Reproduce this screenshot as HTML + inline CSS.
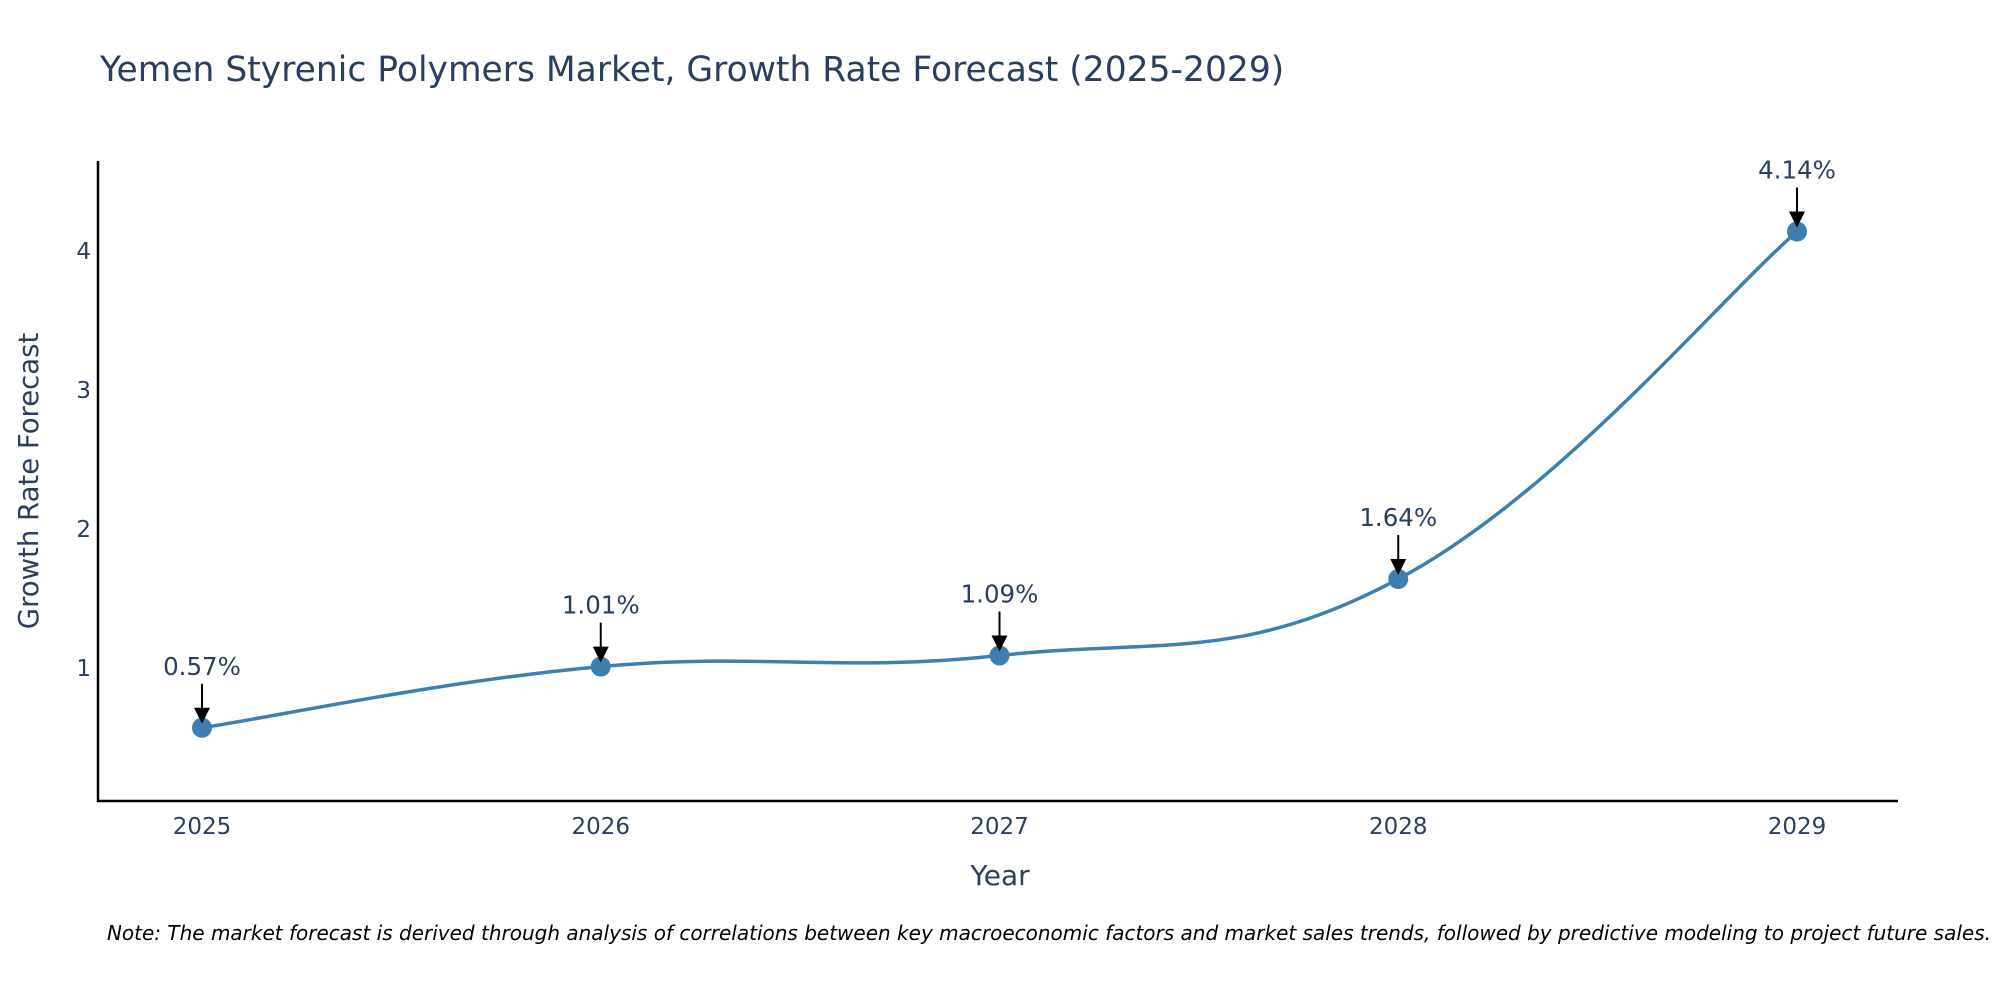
<!DOCTYPE html>
<html><head><meta charset="utf-8"><style>
body{margin:0;background:#fff;}
svg text{font-family:"DejaVu Sans","Liberation Sans",sans-serif;}
</style></head><body>
<svg id="chart" width="2000" height="1000" xmlns="http://www.w3.org/2000/svg">
<text x="100" y="81" font-size="34.5" fill="#2a3f5f">Yemen Styrenic Polymers Market, Growth Rate Forecast (2025-2029)</text>
<g id="yticks"></g>
<g id="xticks"></g>
<line x1="98" y1="161" x2="98" y2="802" stroke="#000" stroke-width="2.5"/>
<line x1="97" y1="801" x2="1898" y2="801" stroke="#000" stroke-width="2.5"/>
<text transform="translate(38,481) rotate(-90)" text-anchor="middle" font-size="27.5" fill="#2a3f5f">Growth Rate Forecast</text>
<text x="1000" y="885" text-anchor="middle" font-size="28" fill="#2a3f5f">Year</text>
<g id="series"></g>
<text x="1991" y="940" text-anchor="end" font-size="20" font-style="italic" fill="#000">Note: The market forecast is derived through analysis of correlations between key macroeconomic factors and market sales trends, followed by predictive modeling to project future sales.</text>
</svg>
<script>
const years = [2025, 2026, 2027, 2028, 2029];
const growth = [0.57, 1.01, 1.09, 1.64, 4.14];
const labels = ["0.57%", "1.01%", "1.09%", "1.64%", "4.14%"];
const yTickValues = [1, 2, 3, 4];

const NS = "http://www.w3.org/2000/svg";
const xScale = v => 202 + (v - 2025) * (1797 - 202) / 4;
const yScale = v => 807 - v * 139;
function mk(tag, attrs, parent) {
  const e = document.createElementNS(NS, tag);
  for (const k in attrs) e.setAttribute(k, attrs[k]);
  parent.appendChild(e);
  return e;
}
const yt = document.getElementById('yticks');
yTickValues.forEach(v => {
  const t = mk('text', {x: 91, y: yScale(v) + 8, 'text-anchor': 'end', 'font-size': 23, fill: '#2a3f5f'}, yt);
  
  
  t.textContent = v;
});
const xt = document.getElementById('xticks');
years.forEach(v => {
  const t = mk('text', {x: xScale(v), y: 834, 'text-anchor': 'middle', 'font-size': 23, fill: '#2a3f5f'}, xt);
  
  
  t.textContent = v;
});
const g = document.getElementById('series');
const pts = years.map((y, i) => [xScale(y), yScale(growth[i])]);
let d = `M${pts[0][0]},${pts[0][1]}`;
const s = 0.2;
for (let i = 0; i < pts.length - 1; i++) {
  const p0 = pts[Math.max(0, i - 1)], p1 = pts[i], p2 = pts[i + 1], p3 = pts[Math.min(pts.length - 1, i + 2)];
  const c1 = [p1[0] + (p2[0] - p0[0]) * s, p1[1] + (p2[1] - p0[1]) * s];
  const c2 = [p2[0] - (p3[0] - p1[0]) * s, p2[1] - (p3[1] - p1[1]) * s];
  d += ` C${c1[0]},${c1[1]} ${c2[0]},${c2[1]} ${p2[0]},${p2[1]}`;
}
const line = mk('path', {d: d, fill: 'none', stroke: '#3d7fb0', 'stroke-width': 3.5}, g);


pts.forEach((p, i) => {
  const c = mk('circle', {cx: p[0], cy: p[1], r: 10, fill: '#3d7fb0'}, g);
  
  
  const a = mk('line', {x1: p[0], y1: p[1] - 44, x2: p[0], y2: p[1] - 18, stroke: '#000', 'stroke-width': 2}, g);
  
  
  const h = mk('path', {d: `M${p[0]-8},${p[1]-20} L${p[0]+8},${p[1]-20} L${p[0]},${p[1]-4} Z`, fill: '#000'}, g);
  
  
  const t = mk('text', {x: p[0], y: p[1] - 53, 'text-anchor': 'middle', 'font-size': 24.5, fill: '#2a3f5f'}, g);
  
  
  t.textContent = labels[i];
});
</script>
</body></html>
